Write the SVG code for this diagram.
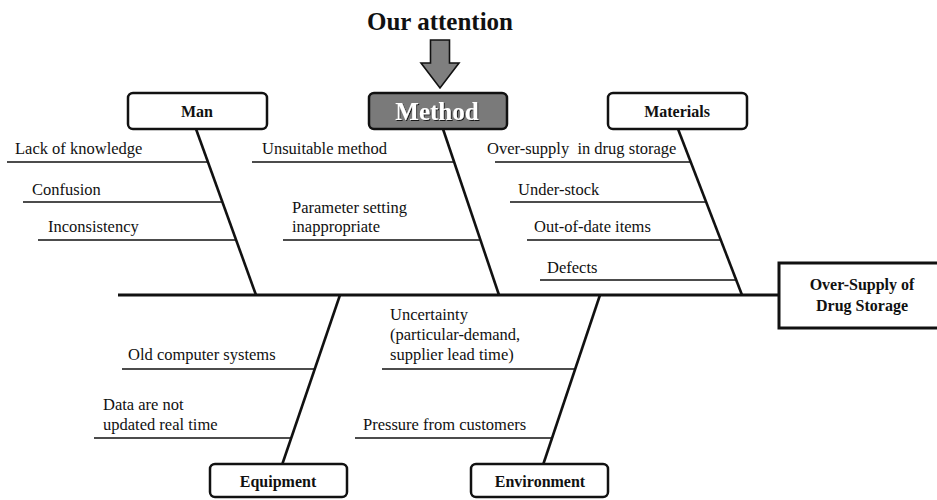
<svg xmlns="http://www.w3.org/2000/svg" width="937" height="500" viewBox="0 0 937 500">
  <defs>
    <filter id="textShadow" x="-10%" y="-20%" width="130%" height="150%">
      <feDropShadow dx="1" dy="1" stdDeviation="0.6" flood-color="#000" flood-opacity="0.8"/>
    </filter>
  </defs>
  <style>
    text { font-family: "Liberation Serif", "Times New Roman", serif; fill: #111; }
    .lbl { font-size: 16.5px; }
    .head { font-size: 16px; font-weight: bold; text-anchor: middle; }
    .cat { fill: #fff; stroke: #111; stroke-width: 2.5; }
    .bone { stroke: #111; stroke-width: 2.6; fill: none; }
    .twig { stroke: #111; stroke-width: 1.5; fill: none; }
  </style>
  <rect width="937" height="500" fill="#fff"/>

  <!-- focus callout -->
  <g id="focus">
    <text x="440" y="30" style="font-size:25px;font-weight:bold" text-anchor="middle">Our attention</text>
    <path d="M430.5,40 H449.5 V63 H459 L440,88 L421,63 H430.5 Z" fill="#7f7f7f" stroke="#111" stroke-width="1.6" stroke-linejoin="miter"/>
  </g>

  <!-- spine and category bones -->
  <g id="connectors">
    <line class="bone" x1="118" y1="295" x2="779" y2="295" style="stroke-width:3"/>
    <line class="bone" x1="196" y1="129" x2="256" y2="295"/>
    <line class="bone" x1="443" y1="129" x2="499" y2="295"/>
    <line class="bone" x1="678" y1="129" x2="742" y2="295"/>
    <line class="bone" x1="340" y1="295" x2="282" y2="465"/>
    <line class="bone" x1="600" y1="295" x2="543" y2="465"/>
  </g>

  <!-- Man -->
  <g id="man">
    <rect class="cat" x="128" y="93" width="139" height="36" rx="5"/>
    <text class="head" x="197" y="117">Man</text>
    <line class="twig" x1="7" y1="162" x2="208" y2="162"/>
    <text class="lbl" x="15" y="154">Lack of knowledge</text>
    <line class="twig" x1="23" y1="202" x2="222" y2="202"/>
    <text class="lbl" x="32" y="195">Confusion</text>
    <line class="twig" x1="38" y1="240" x2="236" y2="240"/>
    <text class="lbl" x="48" y="232">Inconsistency</text>
  </g>

  <!-- Method (highlighted) -->
  <g id="method">
    <rect x="369" y="93" width="138" height="36" rx="5" fill="#7a7a7a" stroke="#111" stroke-width="2.5"/>
    <text x="437" y="120" text-anchor="middle" filter="url(#textShadow)" style="font-size:25px;font-weight:bold;fill:#fff">Method</text>
    <line class="twig" x1="252" y1="162" x2="454" y2="162"/>
    <text class="lbl" x="262" y="154">Unsuitable method</text>
    <line class="twig" x1="283" y1="240" x2="480" y2="240"/>
    <text class="lbl" x="292" y="213">Parameter setting</text>
    <text class="lbl" x="292" y="232">inappropriate</text>
  </g>

  <!-- Materials -->
  <g id="materials">
    <rect class="cat" x="608" y="93" width="139" height="36" rx="5"/>
    <text class="head" x="677" y="117">Materials</text>
    <line class="twig" x1="495" y1="162" x2="690" y2="162"/>
    <text class="lbl" x="487" y="154" xml:space="preserve">Over-supply  in drug storage</text>
    <line class="twig" x1="510" y1="202" x2="706" y2="202"/>
    <text class="lbl" x="518" y="195">Under-stock</text>
    <line class="twig" x1="527" y1="240" x2="721" y2="240"/>
    <text class="lbl" x="534" y="232">Out-of-date items</text>
    <line class="twig" x1="540" y1="280" x2="736" y2="280"/>
    <text class="lbl" x="547" y="273">Defects</text>
  </g>

  <!-- Equipment -->
  <g id="equipment">
    <rect class="cat" x="210" y="464" width="137" height="33" rx="5"/>
    <text class="head" x="278" y="487">Equipment</text>
    <line class="twig" x1="122" y1="369" x2="315" y2="369"/>
    <text class="lbl" x="128" y="360">Old computer systems</text>
    <line class="twig" x1="94" y1="438" x2="291" y2="438"/>
    <text class="lbl" x="103" y="410">Data are not</text>
    <text class="lbl" x="103" y="430">updated real time</text>
  </g>

  <!-- Environment -->
  <g id="environment">
    <rect class="cat" x="471" y="464" width="137" height="33" rx="5"/>
    <text class="head" x="540" y="487">Environment</text>
    <line class="twig" x1="382" y1="369" x2="575" y2="369"/>
    <text class="lbl" x="390" y="320">Uncertainty</text>
    <text class="lbl" x="390" y="340">(particular-demand,</text>
    <text class="lbl" x="390" y="360">supplier lead time)</text>
    <line class="twig" x1="355" y1="438" x2="552" y2="438"/>
    <text class="lbl" x="363" y="430">Pressure from customers</text>
  </g>

  <!-- effect -->
  <g id="effect">
    <rect x="779" y="263" width="170" height="65" fill="#fff" stroke="#111" stroke-width="3"/>
    <text class="head" x="862" y="290">Over-Supply of</text>
    <text class="head" x="862" y="311">Drug Storage</text>
  </g>
</svg>
